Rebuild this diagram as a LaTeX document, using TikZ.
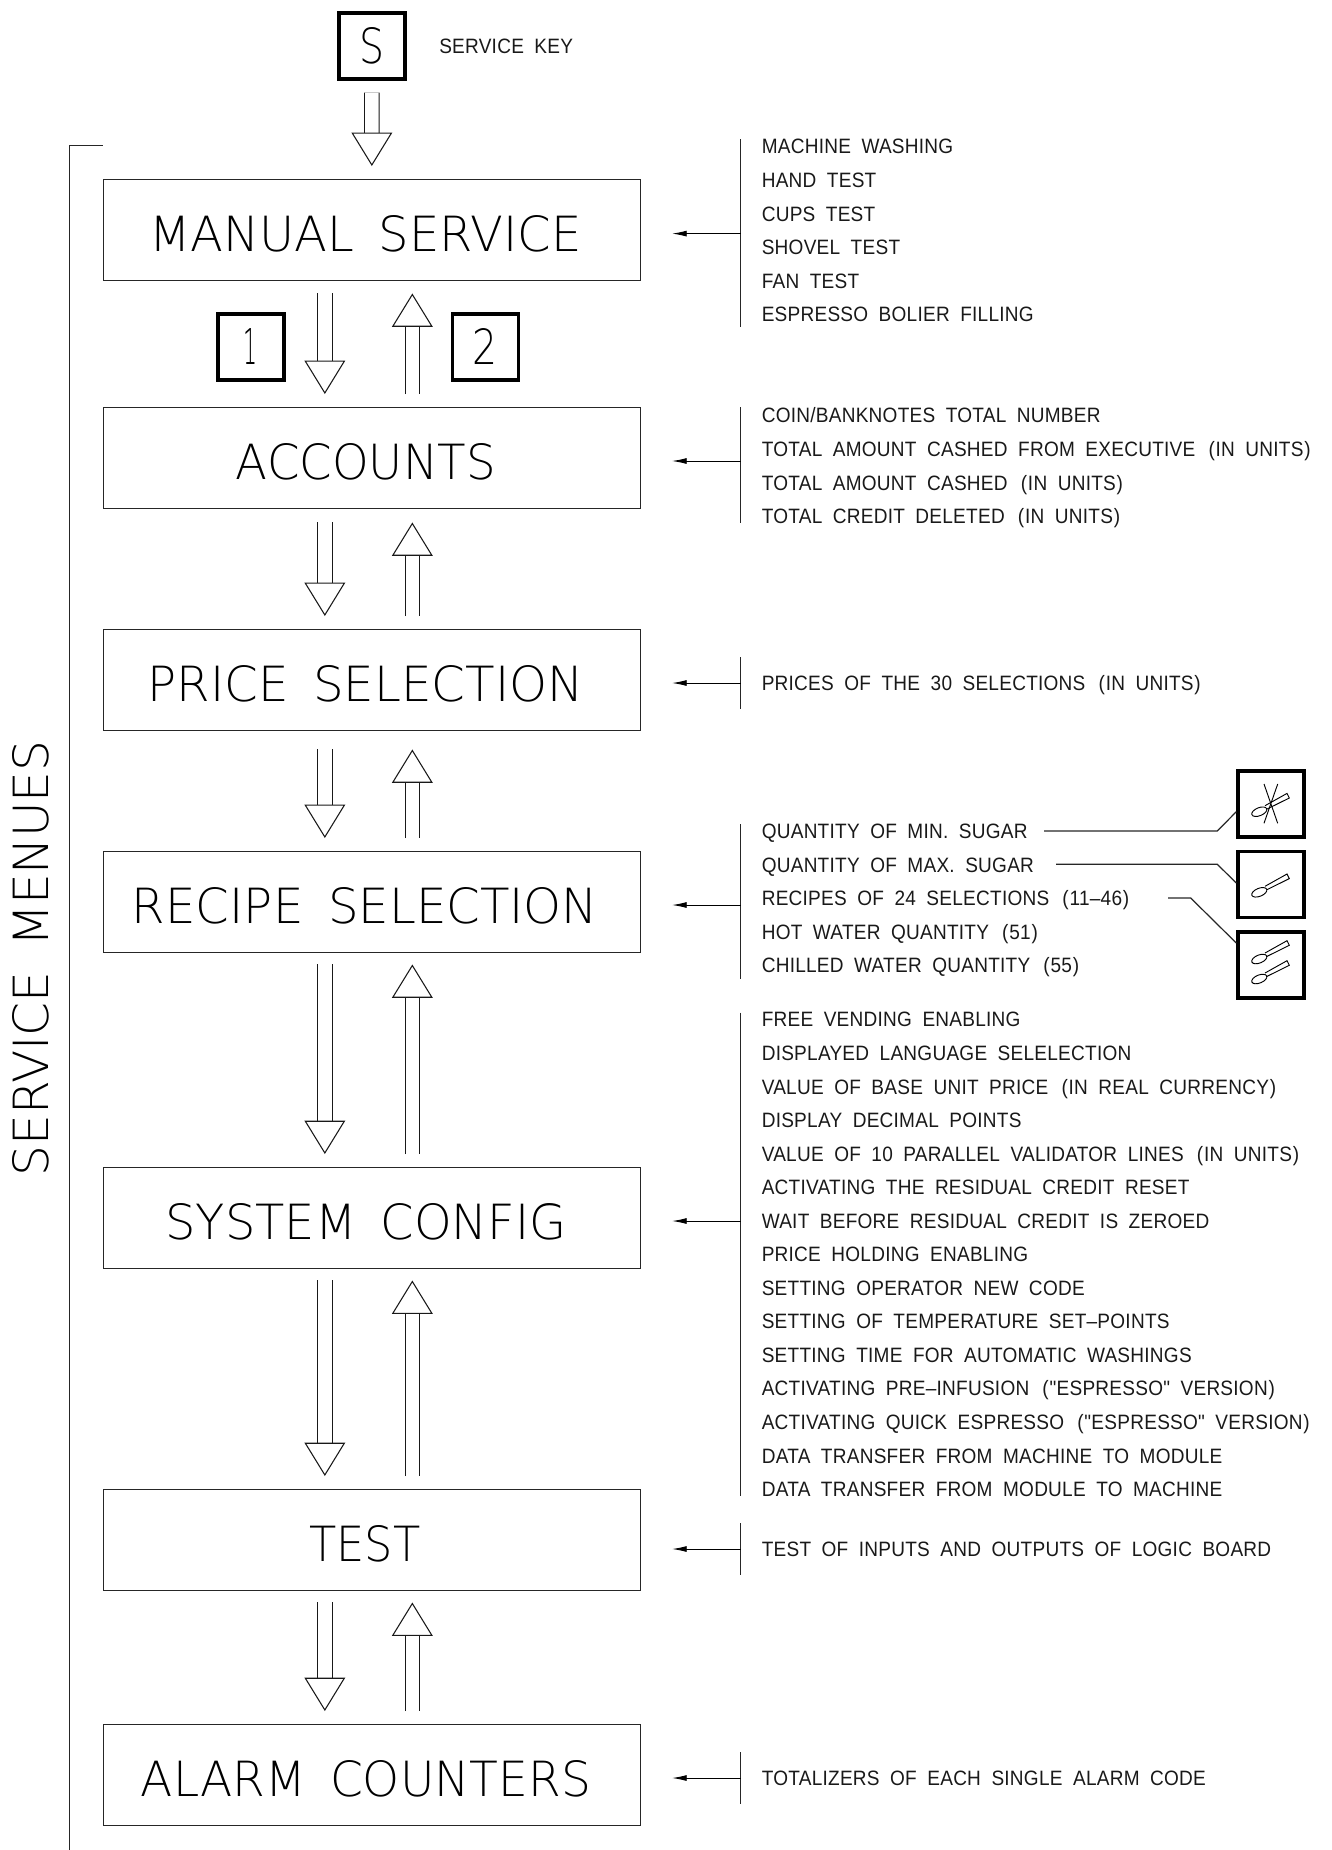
\documentclass[tikz,border=0pt]{standalone}
\usepackage{fontspec}
\usetikzlibrary{arrows.meta,calc}
\newfontfamily\smallf[FakeStretch=0.915,LetterSpace=1.2,WordSpace=1.9]{Liberation Sans}
\newfontfamily\bigf[WordSpace=1.6]{DejaVu Sans ExtraLight}
\newcommand{\bigtext}[3]{\resizebox{\dimexpr#1pt*3/4\relax}{\dimexpr#2pt*3/4\relax}{\bigf #3}}
\newcommand{\pr}[1]{\kern2pt(\kern.6pt#1\kern.6pt)}
\tikzset{
  x=0.75pt,y=-0.75pt,
  menubox/.style={draw=black!85,line width=.85pt,minimum width=403pt,minimum height=76pt,inner sep=0pt,anchor=north west},
  keybox/.style={draw=black,line width=2.8pt,minimum width=49.5pt,minimum height=49.5pt,inner sep=0pt,anchor=north west},
  iconbox/.style={draw=black,line width=2.8pt,minimum width=49.5pt,minimum height=49.5pt,inner sep=0pt,anchor=north west},
  biglabel/.style={inner sep=0pt,anchor=center},
  small/.style={font=\smallf\fontsize{15.6pt}{16pt}\selectfont,inner sep=0pt,anchor=base west,text=black!90},
  flow/.style={double=white,double distance=10.2pt,line width=.7pt,draw=black!90,
     -{Triangle[open,length=25pt,width=30.5pt,line width=.8pt,fill=white]}},
  thin line/.style={draw=black!85,line width=.9pt},
  pointer/.style={draw=black,line width=.7pt,-{Latex[length=11pt,width=4.5pt]}},
  spoonline/.style={draw=black,line width=.7pt},
}
\newcommand{\spoon}[2]{%
  \begin{scope}[shift={(#1,#2)}]
  \draw[spoonline,rotate=22] (0,0) ellipse[x radius=6pt,y radius=3pt];
  \draw[spoonline] (5.7,-6) -- (27.7,-18.3) -- (30,-13.7) -- (7,-2.3);
  \end{scope}}
\begin{document}
\begin{tikzpicture}
\useasboundingbox (0,0) rectangle (1332,1850);
% menu boxes
\node[menubox] (m1) at (102.6,179) {};
\node[menubox] (m2) at (102.6,407) {};
\node[menubox] (m3) at (102.6,629) {};
\node[menubox] (m4) at (102.6,851) {};
\node[menubox] (m5) at (102.6,1167) {};
\node[menubox] (m6) at (102.6,1489) {};
\node[menubox] (m7) at (102.6,1724) {};
\node[biglabel] at (365.5,234) {\bigtext{432}{36}{MANUAL SERVICE}};
\node[biglabel] at (366,462) {\bigtext{260}{36}{ACCOUNTS}};
\node[biglabel] at (365.5,684) {\bigtext{436}{36}{PRICE SELECTION}};
\node[biglabel] at (365,906) {\bigtext{466}{36}{RECIPE SELECTION}};
\node[biglabel] at (366,1222) {\bigtext{401}{36}{SYSTEM CONFIG}};
\node[biglabel] at (365,1544) {\bigtext{111}{36}{TEST}};
\node[biglabel] at (366,1779) {\bigtext{450}{36}{ALARM COUNTERS}};
\node[biglabel,rotate=90] at (31,958.5) {\bigtext{436}{36}{SERVICE MENUES}};
% key boxes
\node[keybox] (ks) at (337,11) {\bigtext{25}{36}{S}};
\node[keybox] (k1) at (216,312) {\bigtext{14}{36}{1}};
\node[keybox] (k2) at (450.5,312) {\bigtext{25}{36}{2}};
\node[small] (sk) at (439,53.5) {SERVICE KEY};
% flow arrows
\draw[flow] ($(ks.south)+(0,12)$) -- ($(m1.north)+(0,-13)$);
\foreach \a/\b/\s in {m1/m2/12,m2/m3/13,m3/m4/18,m4/m5/11,m5/m6/11,m6/m7/11}{
  \draw[flow] ($(\a.south)+(-47,\s)$) -- ($(\b.north)+(-47,-13)$);
  \draw[flow] ($(\b.north)+(40.5,-13)$) -- ($(\a.south)+(40.5,\s)$);
}
% bracket
\coordinate (bt) at (m1.north west |- 0,145.7);
\coordinate (bl) at (69.5,145.7);
\coordinate (bb) at (69.5,1850);
\draw[thin line] (bt) -- (bl) -- (bb);
% list groups
\foreach \n/\yc/\ya/\yb in {m1/233.6/139/327,m2/461/407/523,m3/683/657/709,m4/905/824/979,m5/1221/1012.7/1496,m6/1549/1523/1575,m7/1778/1752/1804}{
  \coordinate (c\n) at (740.7,\yc);
  \draw[thin line] (740.7,\ya) -- (740.7,\yb);
  \draw[pointer] (c\n) -- ($(\n.east |- c\n)+(31,0)$);
}
\foreach \y/\t in {146.3/MACHINE WASHING,179.9/HAND TEST,213.5/CUPS TEST,247.1/SHOVEL TEST,280.7/FAN TEST,314.3/ESPRESSO BOLIER FILLING,
  415.3/COIN{/}BANKNOTES TOTAL NUMBER,448.9/TOTAL AMOUNT CASHED FROM EXECUTIVE \pr{IN UNITS},482.5/TOTAL AMOUNT CASHED \pr{IN UNITS},516.1/TOTAL CREDIT DELETED \pr{IN UNITS},
  683/PRICES OF THE 30 SELECTIONS \pr{IN UNITS},
  831/QUANTITY OF MIN. SUGAR,864.6/QUANTITY OF MAX. SUGAR,898.2/RECIPES OF 24 SELECTIONS \pr{11–46},931.8/HOT WATER QUANTITY \pr{51},965.4/CHILLED WATER QUANTITY \pr{55},
  1019.4/FREE VENDING ENABLING,1052.95/DISPLAYED LANGUAGE SELELECTION,1086.5/VALUE OF BASE UNIT PRICE \pr{IN REAL CURRENCY},1120.05/DISPLAY DECIMAL POINTS,1153.6/VALUE OF 10 PARALLEL VALIDATOR LINES \pr{IN UNITS},1187.15/ACTIVATING THE RESIDUAL CREDIT RESET,1220.7/WAIT BEFORE RESIDUAL CREDIT IS ZEROED,1254.25/PRICE HOLDING ENABLING,1287.8/SETTING OPERATOR NEW CODE,1321.35/SETTING OF TEMPERATURE SET–POINTS,1354.9/SETTING TIME FOR AUTOMATIC WASHINGS,1388.45/ACTIVATING PRE–INFUSION \pr{"ESPRESSO" VERSION},1422/ACTIVATING QUICK ESPRESSO \pr{"ESPRESSO" VERSION},1455.55/DATA TRANSFER FROM MACHINE TO MODULE,1489.1/DATA TRANSFER FROM MODULE TO MACHINE,
  1549/TEST OF INPUTS AND OUTPUTS OF LOGIC BOARD,1778/TOTALIZERS OF EACH SINGLE ALARM CODE}{
  \node[small] at (761.5,\y+7.5) {\t};
}
% icons
\node[iconbox] (i1) at (1236.3,769) {};
\node[iconbox] (i2) at (1236.3,849.5) {};
\node[iconbox] (i3) at (1236.3,930) {};
\spoon{1259.3}{811.7}
\draw[spoonline] (1264,784) -- (1277.7,823.3) (1277.7,784) -- (1264,823.3);
\spoon{1259.3}{892.3}
\spoon{1259.3}{959}
\spoon{1259.3}{979}
% leaders
\draw[thin line] (1044,831) -- (1217.3,831) -- (i1.west |- 0,811.7);
\draw[thin line] (1056,864.3) -- (1217.3,864.3) -- (i2.west |- 0,883);
\draw[thin line] (1168,898) -- (1190.7,898) -- (i3.west |- 0,943);
\end{tikzpicture}
\end{document}
